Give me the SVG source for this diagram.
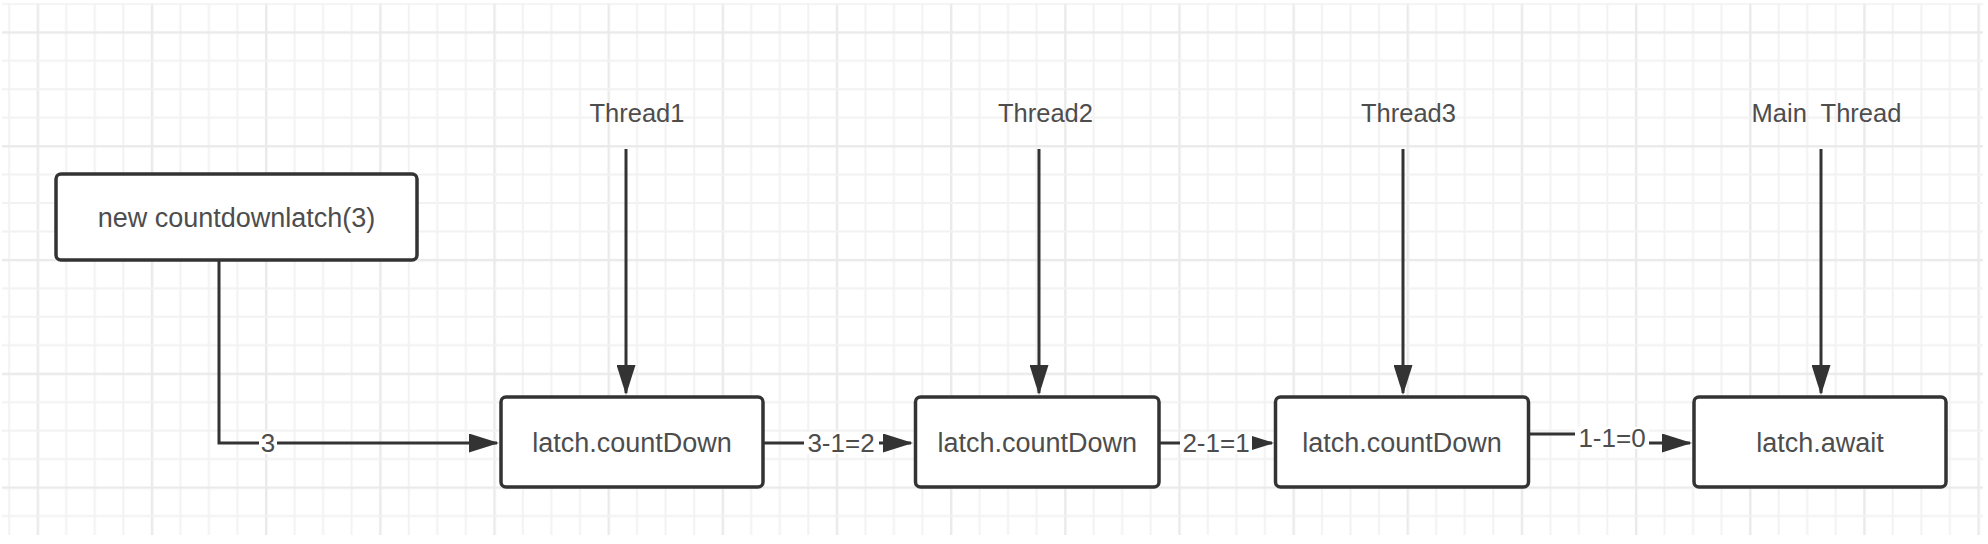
<svg xmlns="http://www.w3.org/2000/svg" width="1988" height="544" viewBox="0 0 1988 544">
  <style>
    .box { fill: #ffffff; stroke: #333333; stroke-width: 3.5; }
    .ntext { font-family: "Liberation Sans", Arial, sans-serif; font-size: 27px; fill: #4d4d4d; text-anchor: middle; }
    .ttext { font-family: "Liberation Sans", Arial, sans-serif; font-size: 25.5px; fill: #4d4d4d; text-anchor: middle; }
    .etext { font-family: "Liberation Sans", Arial, sans-serif; font-size: 26px; fill: #4d4d4d; text-anchor: middle; }
    .conn { fill: none; stroke: #333333; stroke-width: 3; }
    .lbg { fill: #ffffff; }
  </style>
  <defs>
    <pattern id="grid" patternUnits="userSpaceOnUse" x="36.7" y="31.3" width="114.16" height="113.8">
      <rect x="0" y="0" width="2.4" height="113.8" fill="#eaeaea"/>
      <rect x="28.54" y="0" width="2" height="113.8" fill="#f2f2f2"/>
      <rect x="57.08" y="0" width="2" height="113.8" fill="#f2f2f2"/>
      <rect x="85.62" y="0" width="2" height="113.8" fill="#f2f2f2"/>
      <rect x="0" y="0" width="114.16" height="2.4" fill="#eaeaea"/>
      <rect x="0" y="28.45" width="114.16" height="2" fill="#f2f2f2"/>
      <rect x="0" y="56.9" width="114.16" height="2" fill="#f2f2f2"/>
      <rect x="0" y="85.35" width="114.16" height="2" fill="#f2f2f2"/>
    </pattern>
    <marker id="arrow" markerUnits="userSpaceOnUse" markerWidth="30" markerHeight="19" refX="28" refY="9.5" orient="auto">
      <path d="M0,0 L30,9.5 L0,19 z" fill="#333333"/>
    </marker>
  </defs>

  <rect x="0" y="0" width="1988" height="544" fill="#ffffff"/>
  <rect x="2" y="3" width="1981" height="532" fill="url(#grid)"/>

  <g id="connectors">
    <path id="c-init" class="conn" d="M219,260 V443 H497" marker-end="url(#arrow)"/>
    <path id="c-1-2" class="conn" d="M763,443 H911" marker-end="url(#arrow)"/>
    <path id="c-2-3" class="conn" d="M1159,443 H1272" marker-end="url(#arrow)"/>
    <path id="c-3-4" class="conn" d="M1529,434 H1612 V443 H1690" marker-end="url(#arrow)"/>
    <path id="c-t1" class="conn" d="M626,149 V393" marker-end="url(#arrow)"/>
    <path id="c-t2" class="conn" d="M1039,149 V393" marker-end="url(#arrow)"/>
    <path id="c-t3" class="conn" d="M1403,149 V393" marker-end="url(#arrow)"/>
    <path id="c-main" class="conn" d="M1821,149 V393" marker-end="url(#arrow)"/>
    <g id="edge-labels">
      <rect class="lbg" x="259" y="432" width="18" height="22"/>
      <text class="etext" x="268" y="452">3</text>
      <rect class="lbg" x="804" y="432" width="75" height="22"/>
      <text class="etext" x="841" y="452">3-1=2</text>
      <rect class="lbg" x="1180" y="432" width="72" height="22"/>
      <text class="etext" x="1216" y="452">2-1=1</text>
      <rect class="lbg" x="1575" y="427" width="74" height="22"/>
      <text class="etext" x="1612" y="447">1-1=0</text>
    </g>
  </g>

  <g id="node-init">
    <rect class="box" x="56" y="174" width="361" height="86" rx="5"/>
    <text class="ntext" x="236.5" y="227">new countdownlatch(3)</text>
  </g>
  <g id="node-cd1">
    <rect class="box" x="501" y="397" width="262" height="90" rx="5"/>
    <text class="ntext" x="632" y="452">latch.countDown</text>
  </g>
  <g id="node-cd2">
    <rect class="box" x="915.5" y="397" width="243.5" height="90" rx="5"/>
    <text class="ntext" x="1037.3" y="452">latch.countDown</text>
  </g>
  <g id="node-cd3">
    <rect class="box" x="1275.5" y="397" width="253" height="90" rx="5"/>
    <text class="ntext" x="1402" y="452">latch.countDown</text>
  </g>
  <g id="node-await">
    <rect class="box" x="1694" y="397" width="252" height="90" rx="5"/>
    <text class="ntext" x="1820" y="452">latch.await</text>
  </g>
  <g id="label-thread1">
    <text class="ttext" x="637" y="122">Thread1</text>
  </g>
  <g id="label-thread2">
    <text class="ttext" x="1045.5" y="122">Thread2</text>
  </g>
  <g id="label-thread3">
    <text class="ttext" x="1408.5" y="122">Thread3</text>
  </g>
  <g id="label-main">
    <text class="ttext" x="1826.5" y="122" xml:space="preserve">Main  Thread</text>
  </g>
</svg>
